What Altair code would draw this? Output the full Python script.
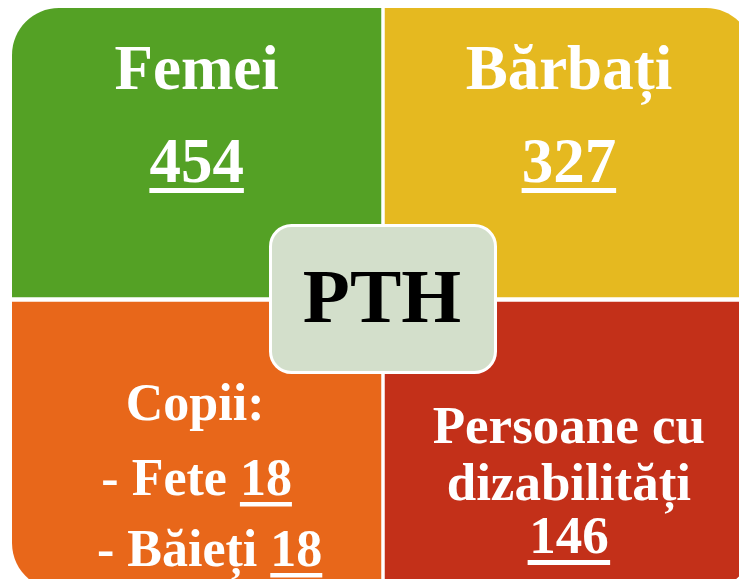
import altair as alt
import pandas as pd

# ---- content ----
titles = ["Femei", "Bărbați"]
top_values = [454, 327]
children_title = "Copii:"
children_labels = ["- Fete", "- Băieți"]
children_values = [18, 18]
disability_lines = ["Persoane cu", "dizabilități"]
disability_values = [146]
center_label = "PTH"
quad_colors = ["#54A125", "#E5B920", "#E8671A", "#C33019"]
center_fill = "#D3DFCB"

# ---- layout (chart pixel space) ----
W, H = 731, 571
FONT = "Liberation Serif"
L, R, T, B = 4, 745, 0, 582
XM, YM = 375, 291.5
GX, GY = 1.75, 2.25
RAD = 47

TW = {" ": 250, "-": 333, ":": 333, "B": 667, "C": 722, "F": 611, "H": 778,
      "P": 611, "T": 667, "a": 500, "b": 556, "c": 444, "d": 556, "e": 444,
      "i": 278, "l": 278, "m": 833, "n": 556, "o": 500, "p": 556, "r": 444,
      "s": 389, "t": 333, "u": 556, "z": 444, "ă": 500, "ț": 333}


def tw(s, fs):
    return sum(TW.get(ch, 500) for ch in s) * fs / 1000.0


xs = alt.Scale(domain=[0, W], range=[0, W], nice=False, zero=False)
ys = alt.Scale(domain=[0, H], range=[0, H], nice=False, zero=False)

layers = []
quads = [
    (L, XM - GX, T, YM - GY, "cornerRadiusTopLeft"),
    (XM + GX, R, T, YM - GY, "cornerRadiusTopRight"),
    (L, XM - GX, YM + GY, B, "cornerRadiusBottomLeft"),
    (XM + GX, R, YM + GY, B, "cornerRadiusBottomRight"),
]
for (x0, x1, y0, y1, corner), col in zip(quads, quad_colors):
    df = pd.DataFrame({"x": [x0], "x2": [x1], "y": [y0], "y2": [y1]})
    layers.append(
        alt.Chart(df).mark_rect(color=col, **{corner: RAD}).encode(
            x=alt.X("x:Q", scale=xs, axis=None), x2="x2:Q",
            y=alt.Y("y:Q", scale=ys, axis=None), y2="y2:Q")
    )

# center box
cb = pd.DataFrame({"x": [262.5], "x2": [487.5], "y": [217.5], "y2": [364.5]})
layers.append(
    alt.Chart(cb).mark_rect(fill=center_fill, stroke="white", strokeWidth=3,
                            cornerRadius=21).encode(
        x=alt.X("x:Q", scale=xs, axis=None), x2="x2:Q",
        y=alt.Y("y:Q", scale=ys, axis=None), y2="y2:Q")
)

texts = []
lines = []
cols = [(L + XM - GX) / 2, (XM + GX + R) / 2]

# top quadrants
for i in range(2):
    c = cols[i]
    fs = 63
    texts.append(dict(x=c, y=80.5, t=titles[i], fs=fs, col="white"))
    num = str(top_values[i])
    texts.append(dict(x=c, y=174, t=num, fs=fs, col="white"))
    w = tw(num, fs)
    lines.append(dict(x=c - w / 2, x2=c + w / 2, y=180, y2=185))

# children (orange)
c = cols[0]
fs = 52
texts.append(dict(x=c - 1.5, y=412, t=children_title, fs=fs, col="white"))
for lab, val, base, dx in zip(children_labels, children_values, [487, 558], [0, 13]):
    line = f"{lab} {val}"
    full = tw(line, fs)
    start = c + dx - full / 2
    texts.append(dict(x=c + dx, y=base, t=line, fs=fs, col="white"))
    ns = start + tw(lab + " ", fs)
    lines.append(dict(x=ns, x2=ns + tw(str(val), fs), y=base + 7, y2=base + 11.5))

# disabilities (red)
c = cols[1]
fs = 53
for ln, base in zip(disability_lines, [435, 492]):
    texts.append(dict(x=c, y=base, t=ln, fs=fs, col="white"))
num = str(disability_values[0])
texts.append(dict(x=c, y=545, t=num, fs=fs, col="white"))
w = tw(num, fs) + 3
lines.append(dict(x=c - w / 2, x2=c + w / 2, y=552, y2=557))

# center
texts.append(dict(x=374, y=314, t=center_label, fs=77, col="black"))

tdf = pd.DataFrame(texts)
layers.append(
    alt.Chart(tdf).mark_text(font=FONT, fontWeight="bold", align="center",
                             baseline="alphabetic").encode(
        x=alt.X("x:Q", scale=xs, axis=None),
        y=alt.Y("y:Q", scale=ys, axis=None),
        text="t:N",
        size=alt.Size("fs:Q", scale=None, legend=None),
        color=alt.Color("col:N", scale=None, legend=None))
)

ldf = pd.DataFrame(lines)
layers.append(
    alt.Chart(ldf).mark_rect(color="white").encode(
        x=alt.X("x:Q", scale=xs, axis=None), x2="x2:Q",
        y=alt.Y("y:Q", scale=ys, axis=None), y2="y2:Q")
)

chart = alt.layer(*layers).properties(
    width=W, height=H, padding=0,
    autosize=alt.AutoSizeParams(type="none"),
    background="white",
).configure_view(stroke=None)

chart.save("out.html", embed_options={"renderer": "svg", "actions": False})
